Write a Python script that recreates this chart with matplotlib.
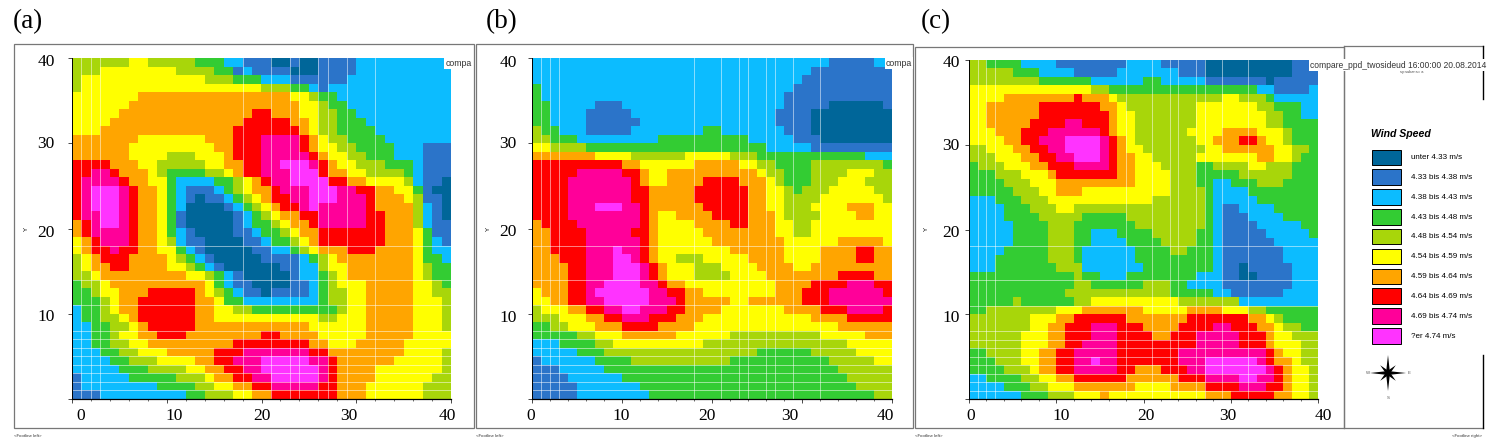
import numpy as np
import matplotlib
matplotlib.use("Agg")
import matplotlib.pyplot as plt
from matplotlib.colors import ListedColormap, BoundaryNorm
from matplotlib.patches import Rectangle, Polygon
from matplotlib import font_manager

W, H = 1508, 446

# colour class of each cell, top row (y=40) first, 40 columns
panel_a = """
4444445544 4443332211 1001001111 2222222222
4445555555 5444433121 1110001111 2222222222
4555555555 5555444333 2221111112 2222222222
4555555555 5555555555 4443321222 2222222222
5555555666 6666666666 6665543322 2222222222
5555556666 6666666666 6666554332 2222222222
5555566666 6666666667 7666554433 2222222222
5555666666 6666666677 7776654433 3222222222
5556666666 6666666777 7777654433 3322222222
6666666555 5555666777 8888765443 3332222222
6666665555 5555566777 8888765544 3333222111
6666665555 4445556777 8888876554 4333222111
7777666554 4444556677 8899987655 4443332111
7788766654 3333445677 8889997665 5444432111
7888876655 3222233456 7889999776 6555542110
7899987665 3211123456 6788899988 7766553100
7899987665 3210112345 6778899988 8766654110
7899987665 3200001234 5677898888 8766664210
7889987665 3100000123 4566778888 8776664210
6789987665 3100000123 3456678888 8776664211
6788887665 3210000112 3345667777 7776665311
5678887665 4211000011 2334567777 7776665321
5677877665 5321000001 1223456667 7766665322
4567776666 5432100000 1111234566 6666665332
4566776666 5543210000 0011224556 6666665433
4456666666 6655432100 0001223456 6666665433
3445666666 6666532110 0001123455 5666665543
3345566677 7776543211 0111123445 5666665544
3334566777 7776653322 2222223445 5666665554
2334566777 7776655443 3333333345 5666665554
2334456777 7776655555 5555554455 5666665554
2233445677 7776666666 6666655555 5666665554
2233455667 7766666666 7766665555 5666665555
2233445566 6666666777 7777766555 6666655555
2223344555 6666677788 8888877666 6666655554
2222334445 5556677888 9999988766 6666555554
2222233344 4455667788 9999998766 6655555554
1222223333 3444566778 8999998766 6655555544
1222222223 3334455667 7888887766 6555555444
1112222222 2233444556 6777777766 6555555444
"""

panel_b = """
2222222222 2222222222 2222222222 2221111122
2222222222 2222222222 2222222222 2111111111
2222222222 2222222222 2222222222 1111111111
3222222222 2222222222 2222222221 1111111111
3222222222 2222222222 2222222211 1111111111
3322222111 2222222222 2222222211 1110000001
3322221111 1222222222 2222222111 1000000000
3322221111 1122222222 2222222111 1000000000
4332221111 1222222223 3222222211 1000000000
4433322222 2222333333 3333222221 1100000000
5544443333 3333333333 3333332222 2111111111
6666666555 5444444555 5544433333 3333333222
7777777777 6655555566 6665544333 3444444443
7777788888 7765566666 6666654433 3444455544
7777888888 8765566667 7776665433 3444555444
7777888888 8776666677 7777665543 4445555544
7777888888 8776666677 7777665544 4455555554
7777888999 8876666667 7777665544 4555566655
7777888888 8876556666 7777666544 4455556655
6777788888 8876555566 6677666554 4555555555
6677778888 8776555556 6666666554 4555555555
6677778888 8876555555 6666666655 5555666665
6677778889 8876555555 5566666655 5566667766
6667778889 9876554445 5555666655 5566667766
6666778889 9987655544 4555566665 5666666666
6666778889 9987655544 4455556666 6666777766
6666778899 9988766555 5555555666 6777788877
5666778999 9998877665 5555555666 7778888887
5566778899 9998887666 6655666666 7778888888
4555667788 9988877666 6555555566 6677788887
4445556677 8887776665 5555555555 5666677777
3344555666 7777666655 5555555555 5555666666
3333344555 6666665555 5544444444 4455555666
2223333445 5555555554 4444444444 4444455555
2222233344 4444444444 4444433333 3444445555
1222222333 3444444444 4433333333 3334444455
1112222233 3333333333 3333333333 3333444444
1111222222 3333333333 3333333333 3333344444
1111122222 2233333333 3333333333 3333334444
1111122222 2223333333 3333333333 3333333344
"""

panel_c = """
4433332222 1111111122 2211111000 0000000111
4444433322 2211111222 2222111000 0000000111
4444444433 3333222222 3322222111 1111011111
5555555555 5555443333 3333333333 3332211112
5555666666 6676665444 4444444445 5444322222
5566666677 7777766544 4444445555 5554433322
5566666677 7777776554 4444445555 5555443322
5566666777 7887776554 4444445555 5555443333
5556667778 8888876554 4444455556 6665554333
5555667788 8999987654 4444445566 6776554333
4455566778 8999987655 4444444556 6666655443
4445556677 8899987665 5444445555 5556655433
3444555667 7788887665 5544443344 4455444333
3334445556 7777777665 5554443333 3444444333
3333444555 6666666665 5554443322 3334443333
3333344455 6665555555 5554444322 2233333333
2223334445 5555555555 5444444322 2223333333
2222333444 5544444444 4444444321 1222233333
2222333344 4443333344 4444444321 1122223333
2222233334 4433333334 4444444321 1112222233
2222233334 4433222333 3444443321 1111222223
2222233334 4433222233 3344443321 1111122222
2222333334 4432222223 3334433321 1111112222
2223333334 4432222223 3333333321 1111112222
2223333333 4442222222 3333333321 1011111222
3333333333 3343322233 3333332221 1001111222
3333333333 3344333333 4443322221 1111111222
3333333333 3444444444 4443333322 1111112222
3333343333 3344555555 5555444444 4222222222
3344444444 5556666666 5555566665 5544333333
4444444555 6677777766 6666677777 7766543333
4444444556 6777888777 6666777788 7776654433
4444445556 6777888777 7667778888 8777655444
4444445556 6778888777 7777778888 8777655544
3344445566 7788888777 7777888888 8888765544
3334445566 7788988777 7777888999 9998766544
3333444566 7788888776 6677788999 9999876554
2233334455 6677777766 6666777888 8998876554
2222333445 5566666665 5556666777 7888776554
2222223334 4455565555 5555555666 7777766554
"""

level_colors = ["#006699", "#2b74c9", "#0cbcff", "#33cc33", "#a8d60a",
                "#ffff00", "#ffa500", "#ff0000", "#ff0099", "#ff33ff"]
level_names = ["unter 4.33 m/s", "4.33 bis 4.38 m/s", "4.38 bis 4.43 m/s",
               "4.43 bis 4.48 m/s", "4.48 bis 4.54 m/s", "4.54 bis 4.59 m/s",
               "4.59 bis 4.64 m/s", "4.64 bis 4.69 m/s", "4.69 bis 4.74 m/s",
               "?er 4.74 m/s"]
tick_labels = ["0", "10", "20", "30", "40"]
grid_x = [1, 2, 3, 18, 21, 23, 24, 26, 27, 29, 32]
grid_y = [1, 2, 3, 4, 5, 6, 7, 8, 11, 14, 18]


def parse(txt):
    rows = [r.replace(" ", "") for r in txt.strip().splitlines()]
    return np.array([[int(c) for c in r] for r in rows])


def narrow_font():
    names = set(f.name for f in font_manager.fontManager.ttflist)
    return "Liberation Sans Narrow" in names


fig = plt.figure(figsize=(W / 100, H / 100), dpi=100, facecolor="white")

# overlay in pixel coordinates for frames and the pasted labels
ov = fig.add_axes([0, 0, 1, 1], zorder=5)
ov.set_xlim(0, W)
ov.set_ylim(H, 0)
ov.axis("off")
ov.patch.set_alpha(0)

cmap = ListedColormap(level_colors)
norm = BoundaryNorm(np.arange(-0.5, 10.5), 10)
serif = "Liberation Serif"
sans = "Liberation Sans"

panels = [
    # data, axes box, frame box, letter x, x label px, y label px, y label x
    (panel_a, (72, 451, 58, 399), (14, 474, 44, 428), "(a)", 13,
     [81, 174, 262, 349, 447], [399, 317, 233, 144, 62], 46, 26),
    (panel_b, (532, 892, 58, 399), (476, 913, 44, 428), "(b)", 486,
     [531, 621, 707, 790, 885], [399, 318, 232, 144, 63], 508, 488),
    (panel_c, (969, 1318, 60, 399), (915, 1344, 46.5, 428), "(c)", 921,
     [971, 1061, 1146, 1228, 1323], [399, 318, 233, 146, 63], 951, 926),
]

for data, box, frame, letter, letter_x, xl, yl, ylx, yname_x in panels:
    x0, x1, y0, y1 = box
    ax = fig.add_axes([x0 / W, 1 - y1 / H, (x1 - x0) / W, (y1 - y0) / H])
    ax.imshow(parse(data), cmap=cmap, norm=norm, extent=[0, 40, 0, 40],
              origin="upper", aspect="auto", interpolation="nearest")
    for g in grid_x:
        ax.axvline(g, color="white", lw=0.6, alpha=0.6)
    for g in grid_y:
        ax.axhline(g, color="white", lw=0.6, alpha=0.6)
    for s in ["top", "right"]:
        ax.spines[s].set_visible(False)
    ax.spines["left"].set_linewidth(0.7)
    ax.spines["bottom"].set_linewidth(0.9)
    ax.set_xticks(np.arange(0, 41, 10))
    ax.set_yticks(np.arange(0, 41, 10))
    ax.set_xticks(np.arange(0, 41, 2), minor=True)
    ax.tick_params(length=3, width=0.5, labelbottom=False, labelleft=False)
    ax.tick_params(which="minor", length=1.5, width=0.4)

    ov.add_patch(Rectangle((frame[0], frame[2]), frame[1] - frame[0], frame[3] - frame[2],
                           fill=False, ec="#777777", lw=0.9))
    ov.text(letter_x, 22, letter, family=serif, fontsize=19.5, ha="left", va="center")
    for t, px in zip(tick_labels, xl):
        ov.text(px, 416, t, family=serif, fontsize=12.5, ha="center", va="center")
    for t, py in zip(tick_labels[1:], yl[1:]):
        ov.text(ylx, py, t, family=serif, fontsize=12.5, ha="center", va="center")
    ov.text(yname_x, 229, "Y", family=sans, fontsize=4.5, rotation=90, ha="center", va="center")
    ov.text(frame[0], 436, "<Footline left>", family=sans, fontsize=3.2, color="#333333",
            ha="left", va="center")

# clipped title stubs at the top right of (a) and (b)
ov.text(445.5, 63, "compa", family=sans, fontsize=6.3, color="#333333", ha="left", va="center",
        bbox=dict(fc="white", ec="none", pad=0.8))
ov.text(886, 63, "compa", family=sans, fontsize=6.3, color="#333333", ha="left", va="center",
        bbox=dict(fc="white", ec="none", pad=0.8))
ov.text(1310.5, 65, "compare_ppd_twosideud 16:00:00 20.08.2014", family=sans, fontsize=6.13,
        color="#333333", ha="left", va="center", bbox=dict(fc="white", ec="none", pad=0.8))
ov.text(1412, 72.5, "sy:subar:s= a", family=sans, fontsize=2.8, color="#444444",
        ha="center", va="center")

# right hand frame around the legend
ov.plot([1344, 1483], [46, 46], color="#777777", lw=0.9)
ov.plot([1344, 1344], [46, 428], color="#777777", lw=0.9)
ov.plot([1344, 1483], [428, 428], color="#777777", lw=0.9)
ov.plot([1482.5, 1482.5], [46, 99], color="black", lw=1.0)
ov.plot([1482.5, 1482.5], [355, 428], color="black", lw=1.0)
ov.text(1482, 436, "<Footline right>", family=sans, fontsize=3.2, color="#333333",
        ha="right", va="center")

# legend
use_narrow = narrow_font()
leg_font = "Liberation Sans Narrow" if use_narrow else sans
leg_size = 7.2 if use_narrow else 5.8
ov.text(1371, 134, "Wind Speed", family=leg_font, fontsize=9.2 if use_narrow else 7.6,
        style="italic", weight="bold", ha="left", va="center")
for i, (c, name) in enumerate(zip(level_colors, level_names)):
    top = 149.5 + i * 19.85
    ov.add_patch(Rectangle((1371.5, top), 29, 15.5, fc=c, ec="black", lw=0.7))
    ov.text(1411, top + 8, name, family=leg_font, fontsize=leg_size, color="black",
            ha="left", va="center")

# compass
cx, cy = 1388, 373
for a in np.arange(8) * np.pi / 4:
    r = 18 if round(a / (np.pi / 4)) % 2 == 0 else 11
    tip = (cx + r * np.sin(a), cy - r * np.cos(a))
    s1 = (cx + 2 * np.cos(a), cy + 2 * np.sin(a))
    s2 = (cx - 2 * np.cos(a), cy - 2 * np.sin(a))
    ov.add_patch(Polygon([tip, s1, s2], fc="black", ec="none"))
ov.text(1368, 373, "W", family=sans, fontsize=3.2, color="#555555", ha="center", va="center")
ov.text(1409, 373, "E", family=sans, fontsize=3.2, color="#555555", ha="center", va="center")
ov.text(1388, 398, "S", family=sans, fontsize=3.2, color="#555555", ha="center", va="center")

fig.savefig("out.png", dpi=100, facecolor="white")
